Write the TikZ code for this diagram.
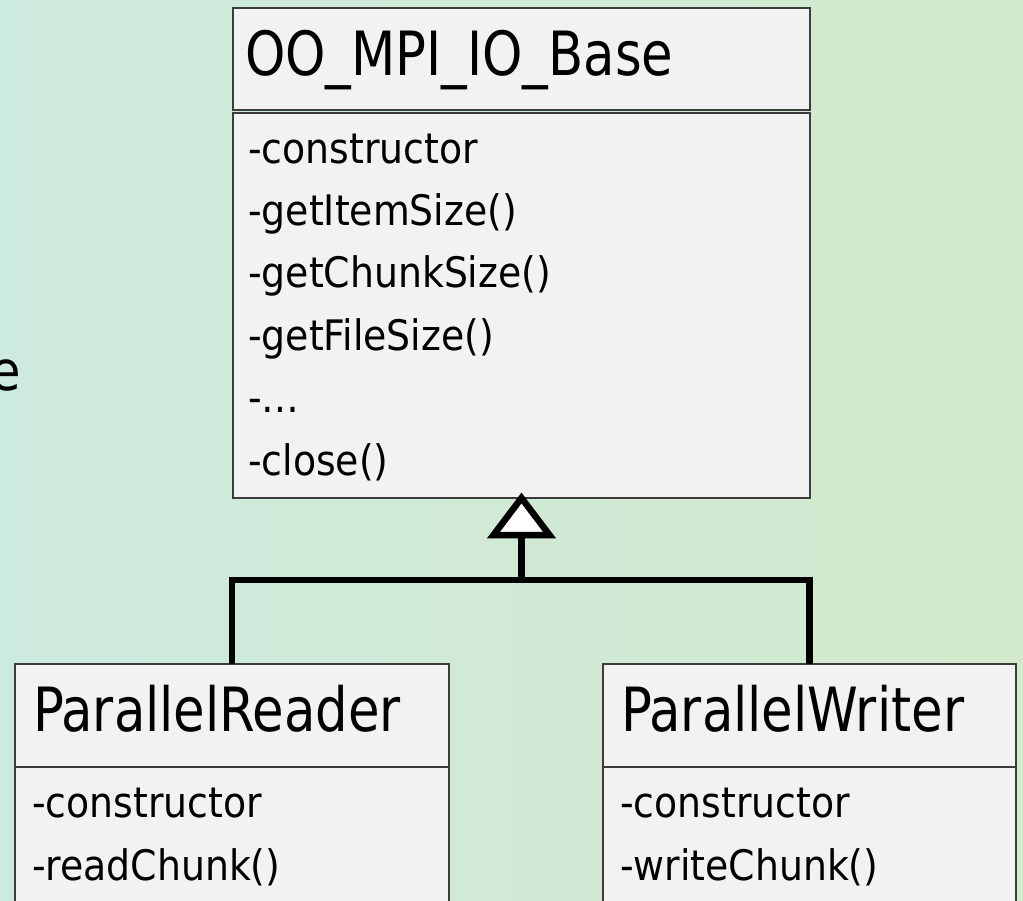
\documentclass[tikz,border=0pt]{standalone}
\usepackage{fontspec}
\usepackage{graphicx}
\setmainfont{DejaVu Sans Condensed}
\definecolor{bgL}{RGB}{205,234,222}
\definecolor{bgR}{RGB}{211,233,205}
\definecolor{boxfill}{RGB}{242,242,242}
\definecolor{boxline}{RGB}{60,60,60}
\usetikzlibrary{calc}
\newcommand{\umltitle}[1]{\scalebox{1}[1.07]{#1}}
\tikzset{
  box/.style={draw=boxline, fill=boxfill, line width=1.5pt, anchor=north west, inner sep=0pt, outer sep=0pt},
  titletext/.style={anchor=base west, inner sep=0pt, font=\fontsize{57}{62}\selectfont},
  bodytext/.style={anchor=base west, inner sep=0pt, font=\fontsize{42}{50}\selectfont},
  conn/.style={draw=black, line width=6.5pt, line join=miter},
}
\begin{document}
\begin{tikzpicture}[x=1pt,y=-1pt]
\useasboundingbox (0,0) rectangle (1023,900);
\shade[left color=bgL, right color=bgR] (0,0) rectangle (1023,900);
% partial slide text at left edge
\node[anchor=base east, inner sep=0pt, font=\fontsize{55}{60}\selectfont] (edge) at (21,390) {e};
% base class
\node[box, minimum width=577pt, minimum height=102pt] (baseh) at (233,8) {};
\node[box, minimum width=577pt, minimum height=385pt] (baseb) at (233,113) {};
\node[titletext] (baset) at (245,75) {\umltitle{OO\_MPI\_IO\_Base}};
\foreach \t [count=\i from 0] in {-constructor,-getItemSize(),-getChunkSize(),-getFileSize(),-…,-close()}
  \node[bodytext] (basel\i) at (248,163+62.4*\i) {\t};
% reader
\node[box, minimum width=434pt, minimum height=103pt] (readh) at (15,664) {};
\node[box, minimum width=434pt, minimum height=150pt] (readb) at (15,767) {};
\node[titletext] (readt) at (33,731) {\umltitle{ParallelReader}};
\node[bodytext] (readl0) at (32,817) {-constructor};
\node[bodytext] (readl1) at (32,880) {-readChunk()};
% writer
\node[box, minimum width=413pt, minimum height=103pt] (writeh) at (603,664) {};
\node[box, minimum width=413pt, minimum height=150pt] (writeb) at (603,767) {};
\node[titletext] (writet) at (621,731) {\umltitle{ParallelWriter}};
\node[bodytext] (writel0) at (620,817) {-constructor};
\node[bodytext] (writel1) at (620,880) {-writeChunk()};
% inheritance
\coordinate (trib) at ($(baseb.south)+(0,37)$);
\coordinate (bar) at ($(readh.north)+(0,-84)$);
\draw[conn] (readh.north) -- (bar) -| (writeh.north);
\draw[conn] (trib) -- (trib |- bar);
\draw[conn, fill=white] (baseb.south) -- ++(-28,37) -- ++(56,0) -- cycle;
\end{tikzpicture}
\end{document}
